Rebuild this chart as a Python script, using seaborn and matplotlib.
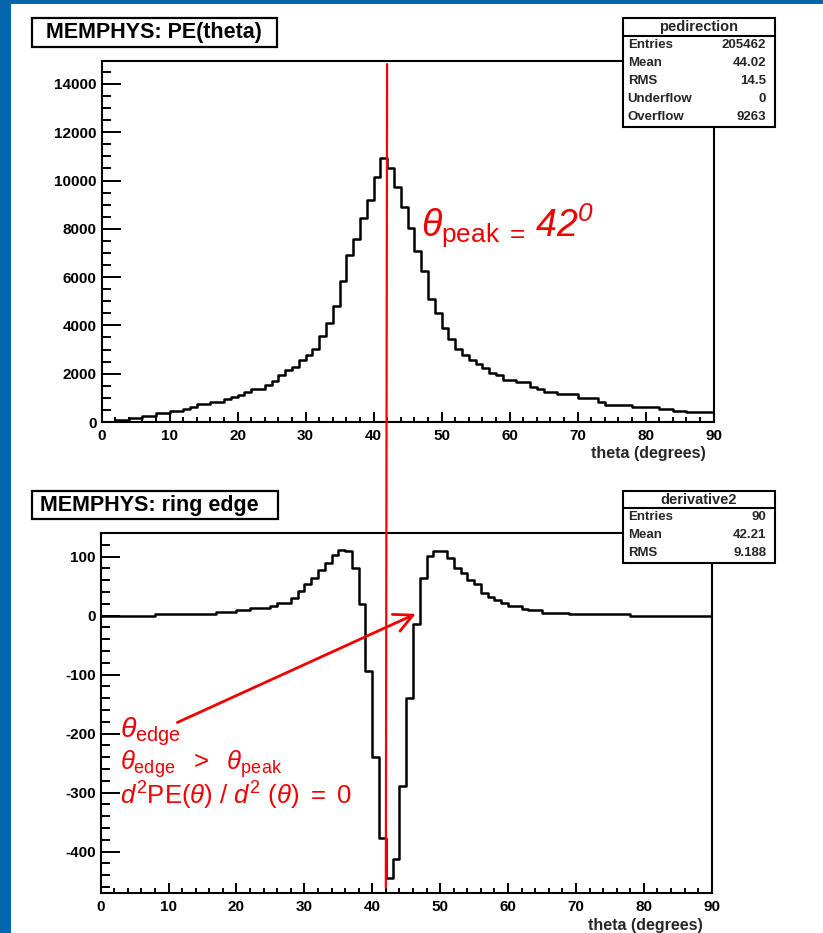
import numpy as np
import pandas as pd
import matplotlib
matplotlib.use("Agg")
import matplotlib.pyplot as plt
from matplotlib.patches import Rectangle, ConnectionPatch
from matplotlib.lines import Line2D
from matplotlib.ticker import MultipleLocator, FixedLocator, FixedFormatter
import seaborn as sns

# ---------------------------------------------------------------- data
# photo-electron counts per 1-degree theta bin (0..90 deg)
pe_counts = [
    0, 0, 80, 80, 180, 180, 265, 265, 360, 360,
    455, 455, 550, 635, 730, 730, 815, 815, 940, 1050,
    1120, 1230, 1370, 1370, 1530, 1700, 1950, 2150, 2290, 2570,
    2790, 3040, 3550, 4100, 4790, 5850, 6930, 7580, 8440, 9190,
    10160, 10930, 10500, 9740, 8910, 8020, 7090, 6270, 5090, 4530,
    3900, 3420, 3030, 2790, 2570, 2410, 2220, 2040, 1950, 1740,
    1740, 1640, 1640, 1460, 1350, 1250, 1250, 1145, 1145, 1145,
    980, 980, 980, 840, 700, 700, 700, 700, 635, 635,
    635, 635, 540, 540, 455, 455, 400, 400, 400, 400,
]
# second derivative of PE(theta), same binning
d2_values = [
    0, 0, 0, 0, 0, 0, 0, 0, 3, 3,
    3, 3, 3, 3, 3, 3, 3, 6, 6, 6,
    9, 9, 13, 13, 13, 17, 22, 22, 30, 41,
    53, 64, 78, 89, 103, 111, 109, 81, 20, -93,
    -240, -377, -445, -412, -289, -140, -15, 64, 101, 110,
    109, 98, 81, 72, 61, 53, 38, 31, 26, 21,
    17, 17, 12, 9, 9, 5, 5, 5, 5, 2,
    2, 2, 2, 2, 2, 2, 2, 2, 0, 0,
    0, 0, 0, 0, 0, 0, 0, 0, 0, 0,
]
theta_edges = list(range(0, 91))
theta_peak = 42

x_ticks = [0, 10, 20, 30, 40, 50, 60, 70, 80, 90]
x_ticklabels = ["0", "10", "20", "30", "40", "50", "60", "70", "80", "90"]
pe_ticks = [0, 2000, 4000, 6000, 8000, 10000, 12000, 14000]
pe_ticklabels = ["0", "2000", "4000", "6000", "8000", "10000", "12000", "14000"]
d2_ticks = [-400, -300, -200, -100, 0, 100]
d2_ticklabels = ["-400", "-300", "-200", "-100", "0", "100"]

title_top = "MEMPHYS: PE(theta)"
title_bottom = "MEMPHYS: ring edge"
x_label = "theta (degrees)"

stats_top_name = "pedirection"
stats_top = [("Entries", "205462"), ("Mean", "44.02"), ("RMS", "14.5"),
             ("Underflow", "0"), ("Overflow", "9263")]
stats_bottom_name = "derivative2"
stats_bottom = [("Entries", "90"), ("Mean", "42.21"), ("RMS", "9.188")]

# ---------------------------------------------------------------- style
sns.set_style("white")
plt.rcParams["font.family"] = ["Liberation Sans", "DejaVu Sans"]
plt.rcParams["axes.unicode_minus"] = False
plt.rcParams["mathtext.fontset"] = "custom"
plt.rcParams["mathtext.rm"] = "Liberation Sans"
plt.rcParams["mathtext.it"] = "Liberation Sans:italic"
plt.rcParams["mathtext.sf"] = "Liberation Sans:italic"
plt.rcParams["mathtext.bf"] = "Liberation Sans:bold"

W, H = 823, 933
fig = plt.figure(figsize=(W / 100, H / 100), dpi=100)
fig.patch.set_facecolor("white")


def fx(px):
    return px / W


def fy(py):
    return 1 - py / H


# blue slide frame on the left and top edge
BLUE = "#0467ad"
fig.add_artist(Rectangle((0, 0), fx(11), 1, transform=fig.transFigure,
                         fc=BLUE, ec="none", zorder=0))
fig.add_artist(Rectangle((0, fy(4)), 1, 4 / H, transform=fig.transFigure,
                         fc=BLUE, ec="none", zorder=0))

ax1 = fig.add_axes([fx(101.5), fy(422), 612 / W, 361 / H])
ax2 = fig.add_axes([fx(100.7), fy(893), 611 / W, 360 / H])

centers = np.array(theta_edges[:-1]) + 0.5
df_pe = pd.DataFrame({"theta": centers, "pe": pe_counts})
df_d2 = pd.DataFrame({"theta": centers, "d2": d2_values})

sns.histplot(data=df_pe, x="theta", weights="pe", bins=theta_edges,
             element="step", fill=False, color="black", linewidth=1.8, ax=ax1)
sns.histplot(data=df_d2, x="theta", weights="d2", bins=theta_edges,
             element="step", fill=False, color="black", linewidth=1.8, ax=ax2)

ax1.set_xlim(0, 90)
ax1.set_ylim(0, 14950)
ax2.set_xlim(0, 90)
ax2.set_ylim(-470, 140)


def style_axis(ax, yticks, ylabels, yminor, xlab_pos):
    for sp in ax.spines.values():
        sp.set_visible(True)
        sp.set_color("black")
        sp.set_linewidth(1.5)
    ax.set_facecolor("white")
    ax.xaxis.set_major_locator(FixedLocator(x_ticks))
    ax.xaxis.set_major_formatter(FixedFormatter(x_ticklabels))
    ax.xaxis.set_minor_locator(MultipleLocator(2))
    ax.yaxis.set_major_locator(FixedLocator(yticks))
    ax.yaxis.set_major_formatter(FixedFormatter(ylabels))
    ax.yaxis.set_minor_locator(MultipleLocator(yminor))
    ax.tick_params(axis="both", which="both", direction="in", width=1.4,
                   color="black", top=False, right=False, left=True,
                   bottom=True, labelsize=11, labelcolor="black")
    ax.tick_params(axis="y", which="major", length=13.5, pad=3.5)
    ax.tick_params(axis="y", which="minor", length=6.5)
    ax.tick_params(axis="x", which="major", length=7.5, pad=5)
    ax.tick_params(axis="x", which="minor", length=3.8)
    plt.setp(ax.get_xticklabels() + ax.get_yticklabels(), fontweight="bold")
    ax.set_ylabel("")
    ax.set_xlabel(x_label, fontsize=11.5, fontweight="bold", loc="right")
    ax.xaxis.set_label_coords(*xlab_pos)
    ax.grid(False)


style_axis(ax1, pe_ticks, pe_ticklabels, 500, (0.988, -0.066))
style_axis(ax2, d2_ticks, d2_ticklabels, 20, (0.986, -0.069))


def title_box(x0, y0, x1, y1, text, tx):
    fig.add_artist(Rectangle((fx(x0), fy(y1)), (x1 - x0) / W, (y1 - y0) / H,
                             transform=fig.transFigure, fc="white",
                             ec="black", lw=1.6, zorder=5))
    fig.text(fx(tx), fy((y0 + y1) / 2), text, ha="left", va="center",
             fontsize=15.5, fontweight="bold", color="black", zorder=6)


title_box(31.7, 18.3, 276.7, 47.3, title_top, 46)
title_box(32, 490.7, 278, 519.3, title_bottom, 40)


def stats_box(x0, y0, x1, y1, ysep, name, rows, row_y0, dy):
    fig.add_artist(Rectangle((fx(x0), fy(y1)), (x1 - x0) / W, (y1 - y0) / H,
                             transform=fig.transFigure, fc="white",
                             ec="black", lw=1.5, zorder=5))
    fig.add_artist(Line2D([fx(x0), fx(x1)], [fy(ysep), fy(ysep)],
                          transform=fig.transFigure, color="black", lw=1.5,
                          zorder=6))
    fig.text(fx((x0 + x1) / 2), fy((y0 + ysep) / 2), name, ha="center",
             va="center", fontsize=10.5, fontweight="bold", zorder=7)
    for i, (k, v) in enumerate(rows):
        yy = fy(row_y0 + i * dy)
        fig.text(fx(x0 + 5), yy, k, ha="left", va="center", fontsize=9.5,
                 fontweight="bold", zorder=7)
        fig.text(fx(x1 - 9), yy, v, ha="right", va="center", fontsize=9.5,
                 fontweight="bold", zorder=7)


stats_box(622.7, 18.3, 775, 126.7, 36, stats_top_name, stats_top, 45, 18)
stats_box(622.7, 490.7, 775, 562.7, 508.3, stats_bottom_name, stats_bottom,
          516.7, 18)

# red marker of the peak position across both pads
con = ConnectionPatch(xyA=(theta_peak, 14820), coordsA=ax1.transData,
                      xyB=(theta_peak, -461), coordsB=ax2.transData,
                      color="red", lw=1.6, zorder=4)
fig.add_artist(con)

RED = "#f00000"
fig.text(fx(421), fy(237),
         r"$\theta_{\mathrm{peak}\ =}\,\mathsf{42}^{\mathsf{0}}$",
         color=RED, fontsize=27, ha="left", va="baseline", zorder=6)

ax2.annotate("", xy=(46.4, 3), xytext=(11.3, -181),
             arrowprops=dict(arrowstyle="->,head_length=0.6,head_width=0.3",
                             color=RED, lw=2, mutation_scale=22,
                             shrinkA=0, shrinkB=0), zorder=6)

fig.text(fx(120), fy(737), r"$\theta_{\mathrm{edge}}$", color=RED,
         fontsize=20.5, ha="left", va="baseline", zorder=6)
fig.text(fx(120), fy(770),
         r"$\theta_{\mathrm{edge}}\ \ >\ \ \theta_{\mathrm{peak}}$",
         color=RED, fontsize=18.5, ha="left", va="baseline", zorder=6)
fig.text(fx(120), fy(805),
         r"$\mathit{d}^{2}\mathrm{PE}(\theta)\ /\ \mathit{d}^{2}\ (\theta)\ =\ 0$",
         color=RED, fontsize=18.5, ha="left", va="baseline", zorder=6)

fig.savefig("out.png", dpi=100, facecolor="white")
